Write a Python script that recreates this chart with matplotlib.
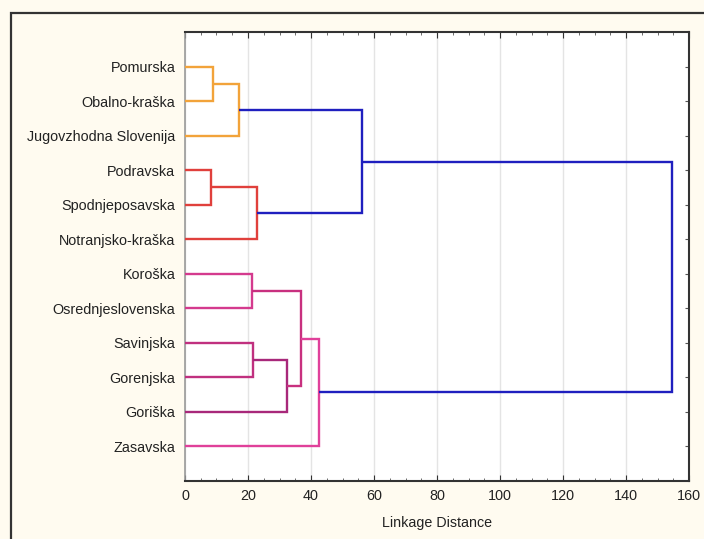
import matplotlib
matplotlib.use("Agg")
import matplotlib.pyplot as plt
from matplotlib.patches import Rectangle
from matplotlib.ticker import MultipleLocator

# ---- data ----
leaves = ["Pomurska", "Obalno-kraška", "Jugovzhodna Slovenija", "Podravska",
          "Spodnjeposavska", "Notranjsko-kraška", "Koroška", "Osrednjeslovenska",
          "Savinjska", "Gorenjska", "Goriška", "Zasavska"]
# merges: node ids (0-11 leaves, 12+ previous merges in order)
merge_left = [0, 12, 3, 14, 13, 6, 8, 18, 17, 20, 16]
merge_right = [1, 2, 4, 5, 15, 7, 9, 10, 19, 11, 21]
merge_height = [8.8, 17.1, 8.2, 22.8, 56.1, 21.3, 21.5, 32.5, 36.8, 42.6, 154.6]
xticks = [0, 20, 40, 60, 80, 100, 120, 140, 160]
xlabel = "Linkage Distance"

# ---- style ----
link_colors = ["#f2a33a", "#f2a33a", "#e0403c", "#e0403c", "#1f1fbf",
               "#d43a8e", "#c0307f", "#a8287a", "#c8307f", "#e0409a", "#1f1fbf"]

plt.rcParams['font.family'] = ['Liberation Sans', 'DejaVu Sans']
fig = plt.figure(figsize=(7.04, 5.39), dpi=100, facecolor="#fffbf0")
ax = fig.add_axes([185 / 704, 1 - 481 / 539, (689 - 185) / 704, (481 - 32) / 539])
ax.set_facecolor("white")

# frame around figure
fig.patches.append(Rectangle((11 / 704, -0.1), 1.2, 1 - 13 / 539 + 0.1,
                             transform=fig.transFigure, fill=False,
                             edgecolor="#333333", linewidth=1.6, zorder=0))

# node positions
ypos = {i: i + 1 for i in range(len(leaves))}
xpos = {i: 0.0 for i in range(len(leaves))}
for k, (a, b, h) in enumerate(zip(merge_left, merge_right, merge_height)):
    nid = len(leaves) + k
    ya, yb = ypos[a], ypos[b]
    ax.plot([xpos[a], h, h, xpos[b]], [ya, ya, yb, yb],
            color=link_colors[k], linewidth=1.7, solid_joinstyle="miter",
            solid_capstyle="butt", zorder=3)
    ypos[nid] = (ya + yb) / 2
    xpos[nid] = h

ax.set_xlim(0, 160)
ax.set_ylim(len(leaves) + 1, 0)
ax.set_yticks(range(1, len(leaves) + 1))
ax.set_yticklabels(leaves, fontsize=10.4, color="#222222")
ax.set_xticks(xticks)
ax.set_xticklabels([str(v) for v in xticks], fontsize=10.4, color="#222222")
ax.xaxis.set_minor_locator(MultipleLocator(5))
ax.tick_params(axis="y", left=False, right=True, direction="in", length=3,
               color="#555555", pad=7)
ax.tick_params(axis="x", which="major", top=True, bottom=True, direction="in",
               length=4, color="#333333", pad=6)
ax.tick_params(axis="x", which="minor", top=True, bottom=True, direction="in",
               length=2, color="#555555")
ax.set_xlabel(xlabel, fontsize=10.3, color="#222222", labelpad=9)

ax.grid(axis="x", color="#e4e4e4", linewidth=1.0, zorder=0)
for side in ["top", "right", "bottom"]:
    ax.spines[side].set_color("#333333")
    ax.spines[side].set_linewidth(1.5)
ax.spines["left"].set_color("#9a9a9a")
ax.spines["left"].set_linewidth(1.2)

fig.savefig("out.png", dpi=100, facecolor=fig.get_facecolor())
